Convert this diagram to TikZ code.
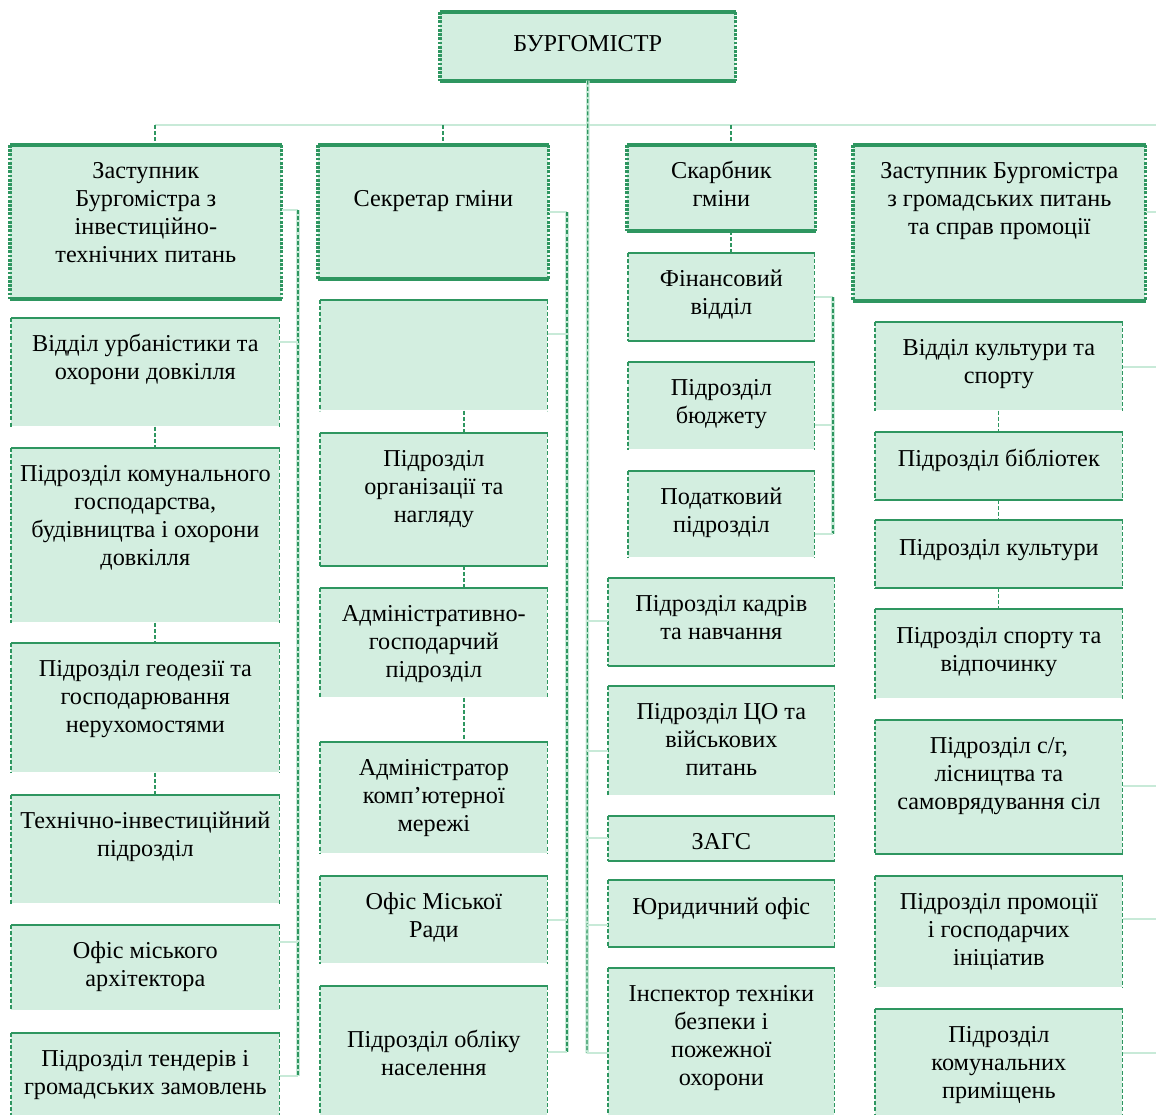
\documentclass[tikz,border=0pt]{standalone}
\usepackage{fontspec}
\setmainfont{Liberation Serif}
\usepackage{tikz}

\definecolor{boxfill}{RGB}{211,238,224}
\definecolor{edge}{RGB}{46,150,96}
\definecolor{pale}{RGB}{200,234,216}

\newdimen\px \px=0.02cm
% box body: width, height (px), text on top
\newcommand{\cell}[4][33]{\parbox[t][#3\px][t]{#2\px}{\centering\rule{0pt}{#1\px}#4}}

\tikzset{
  dept/.style={fill=boxfill, inner sep=0pt, anchor=north west, font=\fontsize{13.8}{15.87}\selectfont},
  topline/.style={edge, line width=1.2pt},
  sideline/.style={edge, line width=0.8pt, dash pattern=on 2.3pt off 1.2pt},
  bossline/.style={edge, line width=2.2pt},
  bossside/.style={edge, line width=1.8pt, dash pattern=on 1.6pt off 0.8pt},
  hconn/.style={pale, line width=1.2pt},
  stub/.style={edge, line width=0.7pt, dash pattern=on 2.3pt off 1.2pt},
  vbus/.style={stub, preaction={draw=pale, solid, line width=2pt}}
}

\begin{document}
\begin{tikzpicture}[x=0.02cm, y=-0.02cm]
  \useasboundingbox (0,0) rectangle (1156,1115);
  \clip (0,0) rectangle (1156,1115);

  % top level
  \node[dept] (burg) at (440,12) {\cell[39]{295}{68}{БУРГОМІСТР}};
  \node[dept] (zast1) at (10,145) {\cell{271}{153}{Заступник\\Бургомістра з\\інвестиційно-\\технічних питань}};
  \node[dept] (secr) at (318,145) {\cell[61]{230}{133}{Секретар гміни}};
  \node[dept] (skarb) at (627,145) {\cell{188}{85}{Скарбник\\гміни}};
  \node[dept] (zast2) at (853,145) {\cell{292}{155}{Заступник Бургомістра\\з громадських питань\\та справ промоції}};

  % column 1
  \node[dept] (urban) at (11,318) {\cell{268}{108}{Відділ урбаністики та\\охорони довкілля}};
  \node[dept] (komun) at (11,448) {\cell{268}{174}{Підрозділ комунального\\господарства,\\будівництва і охорони\\довкілля}};
  \node[dept] (geod) at (11,643) {\cell{268}{129}{Підрозділ геодезії та\\господарювання\\нерухомостями}};
  \node[dept] (tekhn) at (11,795) {\cell{268}{108}{Технічно-інвестиційний\\підрозділ}};
  \node[dept] (arch) at (11,925) {\cell{268}{85}{Офіс міського\\архітектора}};
  \node[dept] (tend) at (11,1033) {\cell{268}{95}{Підрозділ тендерів і\\громадських замовлень}};

  % column 2
  \node[dept] (empty) at (320,300) {\cell{227}{110}{}};
  \node[dept] (org) at (320,433) {\cell{227}{132}{Підрозділ\\організації та\\нагляду}};
  \node[dept] (ahosp) at (320,588) {\cell{227}{109}{Адміністративно-\\господарчий\\підрозділ}};
  \node[dept] (admin) at (320,742) {\cell{227}{111}{Адміністратор\\комп’ютерної\\мережі}};
  \node[dept] (rada) at (320,876) {\cell{227}{87}{Офіс Міської\\Ради}};
  \node[dept] (oblik) at (320,986) {\cell[61]{227}{140}{Підрозділ обліку\\населення}};

  % column 3
  \node[dept] (fin) at (628,253) {\cell{186}{87}{Фінансовий\\відділ}};
  \node[dept] (budg) at (628,362) {\cell{186}{87}{Підрозділ\\бюджету}};
  \node[dept] (tax) at (628,471) {\cell{186}{86}{Податковий\\підрозділ}};
  \node[dept] (kadry) at (608,578) {\cell{226}{87}{Підрозділ кадрів\\та навчання}};
  \node[dept] (civil) at (608,686) {\cell{226}{109}{Підрозділ ЦО та\\військових\\питань}};
  \node[dept] (zags) at (608,816) {\cell{226}{44}{ЗАГС}};
  \node[dept] (legal) at (608,880) {\cell[34]{226}{66}{Юридичний офіс}};
  \node[dept] (insp) at (608,968) {\cell{226}{160}{Інспектор техніки\\безпеки і\\пожежної\\охорони}};

  % column 4
  \node[dept] (kult) at (875,322) {\cell{247}{88}{Відділ культури та\\спорту}};
  \node[dept] (bibl) at (875,432) {\cell[34]{247}{67}{Підрозділ бібліотек}};
  \node[dept] (kultp) at (875,520) {\cell[35]{247}{67}{Підрозділ культури}};
  \node[dept] (sport) at (875,609) {\cell[34]{247}{89}{Підрозділ спорту та\\відпочинку}};
  \node[dept] (agro) at (875,720) {\cell{247}{133}{Підрозділ с/г,\\лісництва та\\самоврядування сіл}};
  \node[dept] (promo) at (875,876) {\cell{247}{111}{Підрозділ промоції\\і господарчих\\ініціатив}};
  \node[dept] (prem) at (875,1009) {\cell{247}{120}{Підрозділ\\комунальних\\приміщень}};

  % borders
  \foreach \n in {burg,zast1,secr,skarb,zast2} {
    \draw[bossline] (\n.north west) -- (\n.north east);
    \draw[bossline] (\n.south west) -- (\n.south east);
    \draw[bossside] (\n.north west) -- (\n.south west);
    \draw[bossside] (\n.north east) -- (\n.south east);
  }
  \foreach \n in {urban,komun,geod,tekhn,arch,tend,empty,org,ahosp,admin,rada,oblik,
                  fin,budg,tax,kadry,civil,zags,legal,insp,kult,bibl,kultp,sport,agro,promo,prem} {
    \draw[topline] (\n.north west) -- (\n.north east);
    \draw[sideline] (\n.north west) -- (\n.south west);
    \draw[sideline] (\n.north east) -- (\n.south east);
  }
  \foreach \n in {fin,kadry,zags,legal,org,kultp,agro,bibl}
    \draw[topline] (\n.south west) -- (\n.south east);

  % bus points
  \coordinate (bus0) at (155,125);
  \coordinate (bus1) at (1160,125);
  \coordinate (main) at (587,1053);
  \coordinate (r1a) at (298,210);
  \coordinate (r1b) at (298,1076);
  \coordinate (r2a) at (567,212);
  \coordinate (r2b) at (567,1052);
  \coordinate (r3a) at (833,297);
  \coordinate (r3b) at (833,534);
  \coordinate (r4) at (1160,0);

  % from the burgomaster
  \draw[hconn] (bus0) -- (bus1);
  \draw[vbus] (burg.south) -- (main);
  \draw[stub] (bus0) -- (bus0 |- zast1.north);
  \draw[stub] (443,125) -- (443,0 |- secr.north);
  \draw[stub] (731,125) -- (731,0 |- skarb.north);
  \draw[hconn] (main |- 0,621) -- (kadry.west |- 0,621);
  \draw[hconn] (main |- 0,751) -- (civil.west |- 0,751);
  \draw[hconn] (main |- 0,838) -- (zags.west |- 0,838);
  \draw[hconn] (main |- 0,925) -- (legal.west |- 0,925);
  \draw[hconn] (main) -- (insp.west |- main);

  % column 1
  \draw[hconn] (zast1.east |- r1a) -- (r1a);
  \draw[vbus] (r1a) -- (r1b);
  \draw[hconn] (urban.east |- 0,342) -- (r1a |- 0,342);
  \draw[hconn] (arch.east |- 0,942) -- (r1a |- 0,942);
  \draw[hconn] (tend.east |- r1b) -- (r1b);
  \draw[stub] (155,0 |- urban.south) -- (155,0 |- komun.north);
  \draw[stub] (155,0 |- komun.south) -- (155,0 |- geod.north);
  \draw[stub] (155,0 |- geod.south) -- (155,0 |- tekhn.north);

  % column 2
  \draw[hconn] (secr.east |- r2a) -- (r2a);
  \draw[vbus] (r2a) -- (r2b);
  \draw[hconn] (empty.east |- 0,334) -- (r2a |- 0,334);
  \draw[hconn] (rada.east |- 0,920) -- (r2a |- 0,920);
  \draw[hconn] (oblik.east |- r2b) -- (r2b);
  \draw[stub] (464,0 |- empty.south) -- (464,0 |- org.north);
  \draw[stub] (464,0 |- org.south) -- (464,0 |- ahosp.north);
  \draw[stub] (464,0 |- ahosp.south) -- (464,0 |- admin.north);

  % column 3
  \draw[stub] (731,0 |- skarb.south) -- (731,0 |- fin.north);
  \draw[hconn] (fin.east |- r3a) -- (r3a);
  \draw[vbus] (r3a) -- (r3b);
  \draw[hconn] (budg.east |- 0,425) -- (r3a |- 0,425);
  \draw[hconn] (tax.east |- r3b) -- (r3b);

  % column 4
  \draw[hconn] (zast2.east |- 0,212) -- (r4 |- 0,212);
  \draw[hconn] (kult.east |- 0,367) -- (r4 |- 0,367);
  \draw[hconn] (agro.east |- 0,786) -- (r4 |- 0,786);
  \draw[hconn] (promo.east |- 0,919) -- (r4 |- 0,919);
  \draw[hconn] (prem.east |- 0,1053) -- (r4 |- 0,1053);
  \draw[stub] (kult.south) -- (bibl.north);
  \draw[stub] (bibl.south) -- (kultp.north);
  \draw[stub] (kultp.south) -- (sport.north);
\end{tikzpicture}
\end{document}
